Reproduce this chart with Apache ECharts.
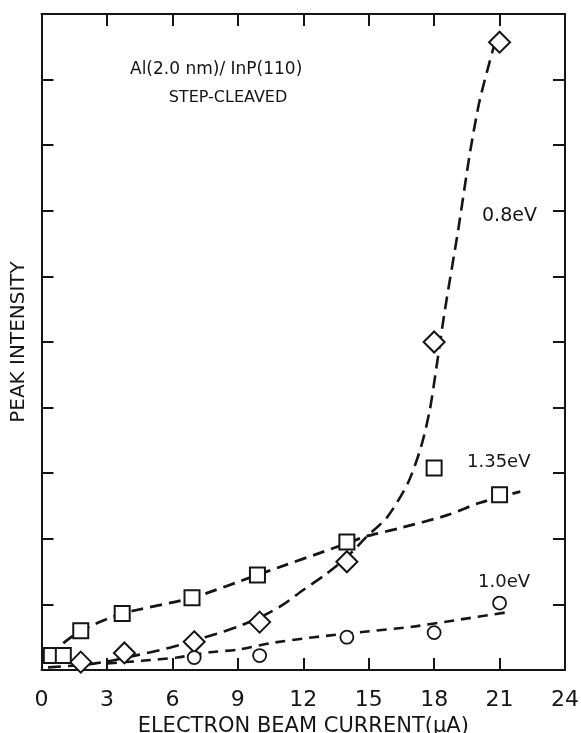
<!DOCTYPE html>
<html><head><meta charset="utf-8">
<script src="https://cdn.jsdelivr.net/npm/echarts@6/dist/echarts.min.js"></script>
<style>html,body{margin:0;padding:0;background:#fff}#c{width:581px;height:733px}</style>
</head><body><div id="c"></div>
<script>
// ---- data ----
const xTicks = [0, 3, 6, 9, 12, 15, 18, 21, 24];

// 0.8 eV (diamonds)
const diamondX = [1.8, 3.8, 7, 10, 14, 18, 21];
const diamondY = [0.12, 0.26, 0.43, 0.73, 1.65, 5.0, 9.57];
// 1.35 eV (squares)
const squareX = [0.45, 1.0, 1.8, 3.7, 6.9, 9.9, 14, 18, 21];
const squareY = [0.22, 0.22, 0.6, 0.86, 1.1, 1.45, 1.95, 3.08, 2.67];
// 1.0 eV (circles)
const circleX = [7, 10, 14, 18, 21];
const circleY = [0.19, 0.22, 0.5, 0.57, 1.02];

// dashed guide curves (traced)
const curve08X = [0.3, 2, 3, 4, 5, 6, 7, 8, 9, 10, 11, 12, 13, 14, 14.9, 15.85, 16.8, 17.4, 17.8, 18.1, 18.5, 19.1, 19.65, 20.1, 20.75];
const curve08Y = [0.04, 0.08, 0.13, 0.2, 0.27, 0.35, 0.45, 0.55, 0.66, 0.8, 0.98, 1.22, 1.45, 1.72, 2.03, 2.33, 2.85, 3.4, 3.96, 4.6, 5.5, 6.7, 7.9, 8.7, 9.52];
const curve135X = [1.0, 1.8, 3.7, 6.9, 9.9, 14, 14.9, 16.4, 18.6, 20.1, 21.95];
const curve135Y = [0.41, 0.6, 0.86, 1.1, 1.45, 1.93, 2.04, 2.16, 2.36, 2.55, 2.72];
const curve10X = [3, 4.6, 6.2, 7.7, 9, 10.5, 12.5, 14.7, 17, 19, 21.35];
const curve10Y = [0.1, 0.14, 0.19, 0.27, 0.31, 0.41, 0.5, 0.58, 0.66, 0.76, 0.88];

const zip = (a, b) => a.map((v, i) => [v, b[i]]);
const INK = '#151515';
const FONT = 'DejaVu Sans';

const chart = echarts.init(document.getElementById('c'), null, {renderer: 'canvas'});

function axisX(pos, showLabel) {
  return {
    type: 'value', min: xTicks[0], max: xTicks[xTicks.length - 1], interval: 3, position: pos,
    axisLine: {show: true, onZero: false, lineStyle: {color: INK, width: 2}},
    axisTick: {show: true, inside: true, length: 12, lineStyle: {color: INK, width: 2}},
    axisLabel: {show: showLabel, fontSize: 22, color: INK, fontFamily: FONT, margin: 19},
    splitLine: {show: false},
    name: showLabel ? 'ELECTRON BEAM CURRENT(\u03BCA)' : '',
    nameLocation: 'middle', nameGap: 37,
    nameTextStyle: {fontSize: 21, color: INK, fontFamily: FONT}
  };
}
function axisY(pos, showName) {
  return {
    type: 'value', min: 0, max: 10, interval: 1, position: pos,
    axisLine: {show: true, onZero: false, lineStyle: {color: INK, width: 2}},
    axisTick: {show: true, inside: true, length: 12, lineStyle: {color: INK, width: 2}},
    axisLabel: {show: false},
    splitLine: {show: false},
    name: showName ? 'PEAK INTENSITY' : '',
    nameLocation: 'middle', nameGap: 13,
    nameTextStyle: {fontSize: 20, color: INK, fontFamily: FONT}
  };
}

const dash = (w, d) => ({color: INK, width: w, type: d});
const curve = (x, y, w, d) => ({type: 'line', data: zip(x, y), smooth: 0.25,
  symbol: 'none', lineStyle: dash(w, d), z: 2, silent: true});
const marks = (x, y, sym, size, bw) => ({type: 'scatter', data: zip(x, y), symbol: sym, symbolSize: size,
  itemStyle: {color: '#fff', borderColor: INK, borderWidth: bw, opacity: 1}, z: 3});

chart.setOption({
  animation: false,
  backgroundColor: '#fff',
  grid: {left: 41.5, right: 16, top: 14, bottom: 63, containLabel: false, outerBoundsMode: 'none'},
  xAxis: [axisX('bottom', true), axisX('top', false)],
  yAxis: [axisY('left', true), axisY('right', false)],
  series: [
    curve(curve08X, curve08Y, 2.6, [13, 7]),
    curve(curve135X, curve135Y, 2.8, [12, 7]),
    curve(curve10X, curve10Y, 2.6, [10, 7]),
    marks(diamondX, diamondY, 'diamond', 21, 2),
    marks(squareX, squareY, 'rect', 15, 2),
    marks(circleX, circleY, 'circle', 13, 1.8)
  ],
  graphic: [
    {type: 'text', x: 130, y: 70, style: {text: 'Al(2.0 nm)/ InP(110)', font: '17px "DejaVu Sans"', fill: INK, textVerticalAlign: 'middle'}},
    {type: 'text', x: 228, y: 98, style: {text: 'STEP-CLEAVED', font: '16px "DejaVu Sans"', fill: INK, textAlign: 'center', textVerticalAlign: 'middle'}},
    {type: 'text', x: 482, y: 216, style: {text: '0.8eV', font: '19px "DejaVu Sans"', fill: INK, textVerticalAlign: 'middle'}},
    {type: 'text', x: 467, y: 462, style: {text: '1.35eV', font: '18px "DejaVu Sans"', fill: INK, textVerticalAlign: 'middle'}},
    {type: 'text', x: 478, y: 582, style: {text: '1.0eV', font: '18px "DejaVu Sans"', fill: INK, textVerticalAlign: 'middle'}}
  ]
});
</script></body></html>
